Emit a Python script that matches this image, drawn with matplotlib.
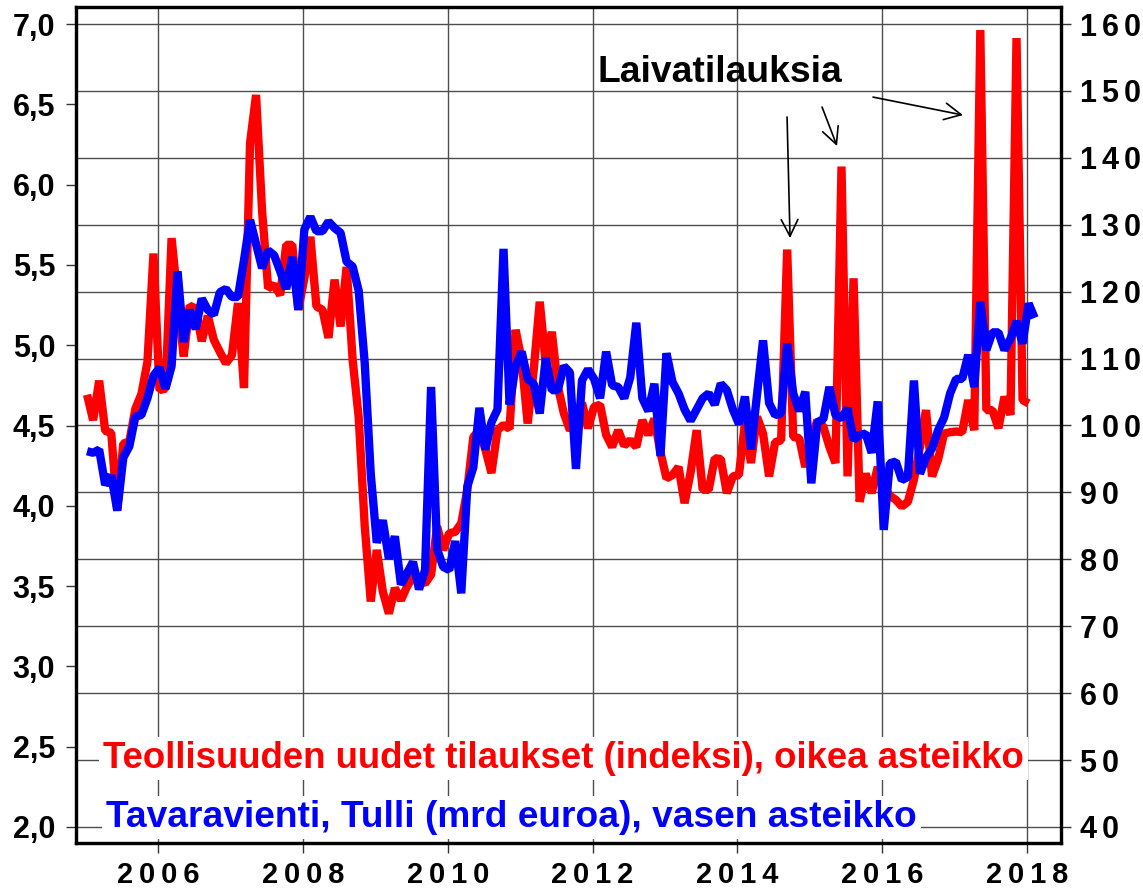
import numpy as np
import matplotlib
matplotlib.use("Agg")
from matplotlib import pyplot as plt

plt.rcParams['font.family'] = ['Liberation Sans', 'DejaVu Sans']
plt.rcParams['font.weight'] = 'bold'

# Teollisuuden uudet tilaukset (indeksi), kuukausittain 1/2005 -> 1/2018
red = [
    104.6, 100.8, 106.7, 99.2, 98.9, 87.4, 97.3, 97.6, 102.5, 104.7,
    109.5, 125.7, 105.3, 105.5, 128.0, 119.0, 110.3, 117.9, 117.5, 112.6,
    116.4, 112.8, 111.0, 109.3, 110.5, 118.3, 105.6, 142.2, 149.4, 132.0,
    120.5, 121.0, 119.5, 127.0, 127.0, 117.3, 122.0, 128.2, 117.8, 117.3,
    113.1, 121.8, 114.8, 123.7, 109.8, 101.3, 85.0, 73.7, 81.4, 75.2,
    71.9, 75.7, 73.9, 75.9, 77.4, 76.9, 76.4, 77.7, 84.9, 81.4,
    83.9, 84.1, 85.4, 90.4, 98.3, 99.3, 96.4, 92.9, 99.3, 100.1,
    99.5, 114.3, 109.8, 100.3, 108.3, 118.5, 109.3, 114.0, 105.8, 101.8,
    99.3, 100.5, 103.4, 99.6, 102.8, 103.1, 98.6, 96.8, 99.3, 97.0,
    97.8, 96.8, 100.8, 98.6, 101.0, 96.0, 92.1, 92.6, 93.8, 88.4,
    93.0, 99.3, 90.4, 90.4, 95.1, 95.0, 89.9, 92.4, 92.6, 100.3,
    94.4, 101.3, 98.8, 92.4, 97.5, 97.8, 126.3, 98.3, 98.1, 93.8,
    97.8, 100.8, 99.8, 96.8, 94.4, 138.7, 92.4, 122.0, 88.6, 92.8,
    89.9, 93.8, 91.0, 89.5, 88.9, 87.9, 88.6, 91.9, 96.8, 102.3,
    92.4, 94.9, 98.8, 99.0, 99.1, 99.0, 103.8, 99.3, 159.1, 102.3,
    102.3, 99.6, 104.3, 101.6, 157.9, 103.8, 103.3,
]

# Tavaravienti, Tulli (mrd euroa), 1/2005 -> 2/2018
blue = [
    4.34, 4.33, 4.35, 4.13, 4.19, 3.97, 4.30, 4.37, 4.555, 4.565,
    4.67, 4.81, 4.86, 4.73, 4.87, 5.46, 5.02, 5.22, 5.10, 5.29,
    5.22, 5.19, 5.33, 5.35, 5.30, 5.30, 5.53, 5.78, 5.63, 5.48,
    5.59, 5.56, 5.46, 5.35, 5.55, 5.22, 5.72, 5.80, 5.71, 5.71,
    5.77, 5.73, 5.70, 5.52, 5.49, 5.34, 4.89, 4.20, 3.77, 3.91,
    3.67, 3.81, 3.51, 3.58, 3.65, 3.48, 3.60, 4.74, 3.73, 3.62,
    3.60, 3.78, 3.455, 4.12, 4.24, 4.61, 4.35, 4.52, 4.60, 5.60,
    4.63, 4.87, 4.96, 4.79, 4.76, 4.575, 4.92, 4.72, 4.72, 4.87,
    4.83, 4.23, 4.78, 4.85, 4.79, 4.67, 4.96, 4.75, 4.74, 4.67,
    4.80, 5.14, 4.67, 4.59, 4.76, 4.31, 4.95, 4.77, 4.70, 4.60,
    4.53, 4.60, 4.67, 4.70, 4.63, 4.76, 4.72, 4.60, 4.51, 4.68,
    4.35, 4.69, 5.03, 4.64, 4.565, 4.575, 5.01, 4.70, 4.59, 4.71,
    4.14, 4.52, 4.54, 4.74, 4.565, 4.544, 4.607, 4.41, 4.44, 4.45,
    4.33, 4.65, 3.85, 4.265, 4.275, 4.16, 4.18, 4.78, 4.20, 4.30,
    4.357, 4.47, 4.55, 4.70, 4.79, 4.79, 4.94, 4.74, 5.27, 4.97,
    5.08, 5.08, 4.97, 5.04, 5.15, 5.01, 5.26, 5.17,
]

years = [2006, 2008, 2010, 2012, 2014, 2016, 2018]
left_ticks = [2.0, 2.5, 3.0, 3.5, 4.0, 4.5, 5.0, 5.5, 6.0, 6.5, 7.0]
right_ticks = [40, 50, 60, 70, 80, 90, 100, 110, 120, 130, 140, 150, 160]

red_label = 'Teollisuuden uudet tilaukset (indeksi), oikea asteikko'
blue_label = 'Tavaravienti, Tulli (mrd euroa), vasen asteikko'
note = 'Laivatilauksia'

x_red = 2005 + (np.arange(len(red)) + 0.25) / 12.0
x_blue = 2005 + (np.arange(len(blue)) + 0.25) / 12.0

fig = plt.figure(figsize=(11.43, 8.88), dpi=100)
ax = fig.add_axes([0.0665, 0.0507, 0.8618, 0.9414])  # oikea asteikko + ruudukko
axb = ax.twinx()  # vasen asteikko

ax.set_xlim(2004.868, 2018.469)
ax.set_ylim(37.61, 162.54)
axb.set_ylim(1.9004, 7.1059)

# ruudukko
ax.set_xticks(years)
ax.set_xticklabels(['\u2009'.join(str(y)) for y in years], fontsize=21, fontweight='bold')
ax.set_yticks(right_ticks)
ax.set_yticklabels(['\u200a\u200a'.join(str(v)) for v in right_ticks], fontsize=22, fontweight='bold')
ax.yaxis.tick_right()
ax.grid(True, color='0.3', lw=1.0)
ax.tick_params(axis='both', direction='out', length=7, width=1.0, color='0.2')
ax.tick_params(axis='y', pad=7)
ax.tick_params(axis='x', pad=6)

axb.yaxis.tick_left()
axb.set_yticks(left_ticks)
axb.set_yticklabels([('%.1f' % v).replace('.', ',') for v in left_ticks], fontsize=22, fontweight='bold')
axb.tick_params(axis='y', direction='out', length=7, width=1.0, color='0.2', pad=8)

for a in (ax, axb):
    for s in a.spines.values():
        s.set_linewidth(2.3)

ax.plot(x_red, red, color='#ff0000', lw=6.0, solid_joinstyle='bevel', solid_capstyle='butt', zorder=3)
axb.plot(x_blue, blue, color='#0000ff', lw=6.0, solid_joinstyle='bevel', solid_capstyle='butt', zorder=3)

# selitteet valkoisella pohjalla
axb.text(0.0274, 0.0897, red_label, transform=axb.transAxes, color='#ff0000', fontsize=26.4,
         fontweight='bold', ha='left', va='baseline', zorder=5,
         bbox=dict(facecolor='white', edgecolor='none', pad=3))
axb.text(0.0305, 0.0191, blue_label, transform=axb.transAxes, color='#0000ff', fontsize=26.7,
         fontweight='bold', ha='left', va='baseline', zorder=5,
         bbox=dict(facecolor='white', edgecolor='none', pad=3))

# laivatilaukset ja nuolet
axb.text(2013.76, 6.639, note, fontsize=26.8, fontweight='bold', ha='center', va='baseline', zorder=5)
arrows = [((2014.686, 6.421), (2014.727, 5.667)),
          ((2015.169, 6.483), (2015.376, 6.240)),
          ((2015.873, 6.545), (2017.116, 6.433))]
for tail, head in arrows:
    axb.annotate('', xy=head, xytext=tail, zorder=5,
                 arrowprops=dict(arrowstyle='->,head_length=0.6,head_width=0.3', lw=1.2,
                                 color='black', shrinkA=0, shrinkB=0, mutation_scale=20))

fig.savefig('out.png', dpi=100)
